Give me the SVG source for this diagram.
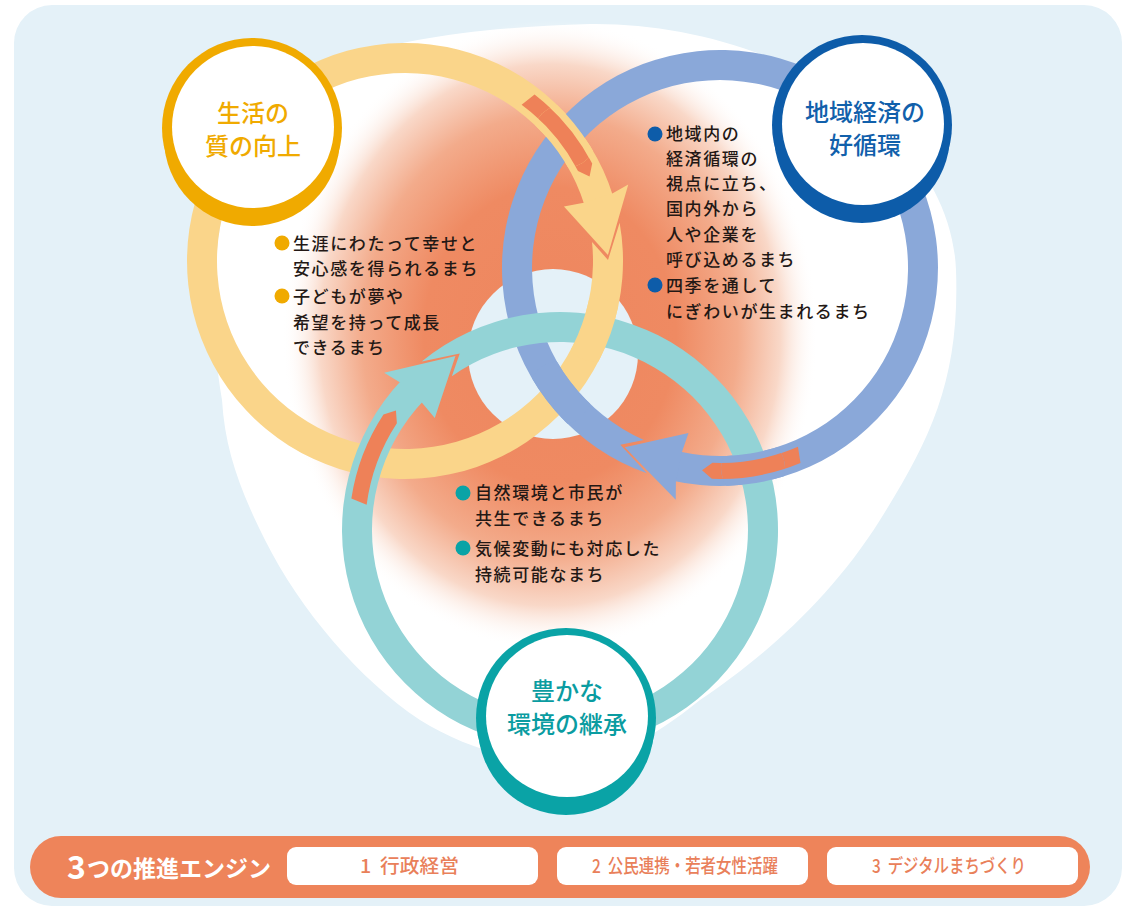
<svg xmlns="http://www.w3.org/2000/svg" xmlns:xlink="http://www.w3.org/1999/xlink" width="1125" height="910" viewBox="0 0 1125 910">
<style>
.body{font-family:"Noto Sans CJK JP","Noto Sans",sans-serif;font-size:17px;font-weight:500;letter-spacing:1.6px;fill:#231815}
.title{font-family:"Noto Sans CJK JP","Noto Sans",sans-serif;font-size:24px;font-weight:500;text-anchor:middle}
.box{fill:#ffffff}
.boxtxt{font-family:"Noto Sans CJK JP","Noto Sans",sans-serif;font-size:19px;font-weight:500;fill:#e9805a;white-space:pre}
.stripe{fill:#ee8158}
.eng{font-family:"Noto Sans CJK JP","Noto Sans",sans-serif;font-weight:700;fill:#ffffff}
</style>
<defs>
<radialGradient id="glow" gradientUnits="userSpaceOnUse" cx="0" cy="0" r="1" gradientTransform="translate(550,335) scale(268,315)">
<stop offset="0" stop-color="#ee865e"/>
<stop offset="0.47" stop-color="#ef8a62"/>
<stop offset="0.7" stop-color="#f3ab8b"/>
<stop offset="0.86" stop-color="#f9d8c8"/>
<stop offset="1" stop-color="#ffffff" stop-opacity="0"/>
</radialGradient>
<g id="ringY" transform="translate(405,261) rotate(-1.7)">
<path fill="#fad58a" d="M215.67 -31.8 L202.94 5 L187.51 -13.5 A188 188 0 1 1 181.19 -50.15 L210.10 -58.15 A218 218 0 1 0 215.67 -31.8 Z"/>
<polygon fill="#fad58a" points="180.42,-52.86 160.5,-49.65 203,0 225.46,-69.74 209.21,-61.29"/>
<path class="stripe" d="M186.98 -79.05 L190 -91.78 A211 211 0 0 0 134.44 -162.63 L121.21 -152.75 A195 195 0 0 1 175.59 -84.82 Z"/>
</g>
<g id="ringB" transform="translate(720,268) rotate(118)">
<path fill="#8aa8d9" d="M215.67 -31.8 L202.94 5 L187.51 -13.5 A188 188 0 1 1 181.19 -50.15 L210.10 -58.15 A218 218 0 1 0 215.67 -31.8 Z"/>
<polygon fill="#8aa8d9" points="180.42,-52.86 160.5,-49.65 203,0 225.46,-69.74 209.21,-61.29"/>
<path class="stripe" d="M186.98 -79.05 L190 -91.78 A211 211 0 0 0 134.44 -162.63 L121.21 -152.75 A195 195 0 0 1 175.59 -84.82 Z"/>
</g>
<g id="ringT" transform="translate(560,530) rotate(-121)">
<path fill="#93d3d6" d="M215.67 -31.8 L202.94 5 L187.51 -13.5 A188 188 0 1 1 181.19 -50.15 L210.10 -58.15 A218 218 0 1 0 215.67 -31.8 Z"/>
<polygon fill="#93d3d6" points="180.42,-52.86 160.5,-49.65 203,0 225.46,-69.74 209.21,-61.29"/>
<path class="stripe" d="M186.98 -79.05 L190 -91.78 A211 211 0 0 0 134.44 -162.63 L121.21 -152.75 A195 195 0 0 1 175.59 -84.82 Z"/>
</g>
<clipPath id="cYB1" clipPathUnits="userSpaceOnUse"><circle cx="565" cy="136" r="32"/></clipPath>
<clipPath id="cBY2" clipPathUnits="userSpaceOnUse"><circle cx="560" cy="393" r="32"/></clipPath>
<clipPath id="cYT2" clipPathUnits="userSpaceOnUse"><circle cx="596" cy="330" r="32"/></clipPath>
<clipPath id="cBT2" clipPathUnits="userSpaceOnUse"><circle cx="753" cy="468" r="32"/></clipPath>
</defs>

<rect x="0" y="0" width="1125" height="910" fill="#ffffff"/>
<rect x="14" y="5" width="1108" height="901" rx="38" fill="#e4f1f8"/>

<g id="backdrop">
<path fill="#ffffff" d="M590 24 C760 22 950 120 956 270 C960 380 930 440 880 520 C830 600 760 660 700 700 C650 740 610 762 565 762 C510 762 460 745 420 720 C360 680 300 610 265 540 C240 490 225 450 222 400 C205 300 215 200 250 130 C290 60 400 30 590 24 Z"/>
<ellipse cx="550" cy="335" rx="268" ry="315" fill="url(#glow)"/>
<circle cx="553" cy="354" r="85" fill="#e4f1f8"/>
</g>

<g id="connectors">
<use xlink:href="#ringY" href="#ringY"/>
<use xlink:href="#ringB" href="#ringB"/>
<use xlink:href="#ringT" href="#ringT"/>
<use xlink:href="#ringY" href="#ringY" clip-path="url(#cYB1)"/>
<use xlink:href="#ringB" href="#ringB" clip-path="url(#cBY2)"/>
<use xlink:href="#ringY" href="#ringY" clip-path="url(#cYT2)"/>
<use xlink:href="#ringB" href="#ringB" clip-path="url(#cBT2)"/>
</g>

<g id="node-life">
<circle cx="252" cy="128" r="90" fill="#f0aa00"/>
<circle cx="252" cy="138" r="88" fill="#f0aa00"/>
<circle cx="253" cy="127" r="81" fill="#ffffff"/>
<text class="title" fill="#f0aa00" x="253" y="122">生活の</text>
<text class="title" fill="#f0aa00" x="253" y="155">質の向上</text>
</g>

<g id="node-economy">
<circle cx="862" cy="125" r="90" fill="#0d5ca9"/>
<circle cx="862" cy="135" r="88" fill="#0d5ca9"/>
<circle cx="863" cy="124" r="81" fill="#ffffff"/>
<text class="title" fill="#1160ab" x="865" y="121">地域経済の</text>
<text class="title" fill="#1160ab" x="865" y="154">好循環</text>
</g>

<g id="node-environment">
<circle cx="566" cy="718" r="90" fill="#0aa3a6"/>
<circle cx="566" cy="727" r="88" fill="#0aa3a6"/>
<circle cx="567" cy="716" r="81" fill="#ffffff"/>
<text class="title" fill="#0a9ca1" x="567" y="700">豊かな</text>
<text class="title" fill="#0a9ca1" x="567" y="733">環境の継承</text>
</g>

<g id="notes-life">
<circle cx="282" cy="243" r="7.5" fill="#f0aa00"/>
<circle cx="282" cy="296" r="7.5" fill="#f0aa00"/>
<text class="body" x="293" y="249.5">生涯にわたって幸せと</text>
<text class="body" x="293" y="274.5">安心感を得られるまち</text>
<text class="body" x="293" y="302.5">子どもが夢や</text>
<text class="body" x="293" y="328.5">希望を持って成長</text>
<text class="body" x="293" y="353.5">できるまち</text>
</g>

<g id="notes-economy">
<circle cx="655" cy="134" r="7.5" fill="#0d5ca9"/>
<circle cx="655" cy="285" r="7.5" fill="#0d5ca9"/>
<text class="body" x="666" y="139.5">地域内の</text>
<text class="body" x="666" y="164.5">経済循環の</text>
<text class="body" x="666" y="189.5">視点に立ち、</text>
<text class="body" x="666" y="214.5">国内外から</text>
<text class="body" x="666" y="240.5">人や企業を</text>
<text class="body" x="666" y="265.5">呼び込めるまち</text>
<text class="body" x="666" y="291.5">四季を通して</text>
<text class="body" x="666" y="317.5">にぎわいが生まれるまち</text>
</g>

<g id="notes-environment">
<circle cx="463" cy="493" r="7.5" fill="#0aa3a6"/>
<circle cx="463" cy="548" r="7.5" fill="#0aa3a6"/>
<text class="body" x="475" y="498.5">自然環境と市民が</text>
<text class="body" x="475" y="524.5">共生できるまち</text>
<text class="body" x="475" y="554.5">気候変動にも対応した</text>
<text class="body" x="475" y="580.5">持続可能なまち</text>
</g>

<g id="engines">
<rect x="30" y="836" width="1060" height="62" rx="31" fill="#ee845a"/>
<text class="eng" x="67" y="879" font-size="32">3</text>
<text class="eng" x="87" y="877" font-size="23" textLength="184" lengthAdjust="spacingAndGlyphs">つの推進エンジン</text>
<rect class="box" x="287" y="847" width="251" height="38" rx="9"/>
<rect class="box" x="557" y="847" width="251" height="38" rx="9"/>
<rect class="box" x="827" y="847" width="251" height="38" rx="9"/>
<text class="boxtxt" x="360" y="873" xml:space="preserve" textLength="99" lengthAdjust="spacingAndGlyphs">1  行政経営</text>
<text class="boxtxt" x="592" y="873" xml:space="preserve" textLength="186" lengthAdjust="spacingAndGlyphs">2  公民連携・若者女性活躍</text>
<text class="boxtxt" x="872" y="873" xml:space="preserve" textLength="154" lengthAdjust="spacingAndGlyphs">3  デジタルまちづくり</text>
</g>
</svg>
